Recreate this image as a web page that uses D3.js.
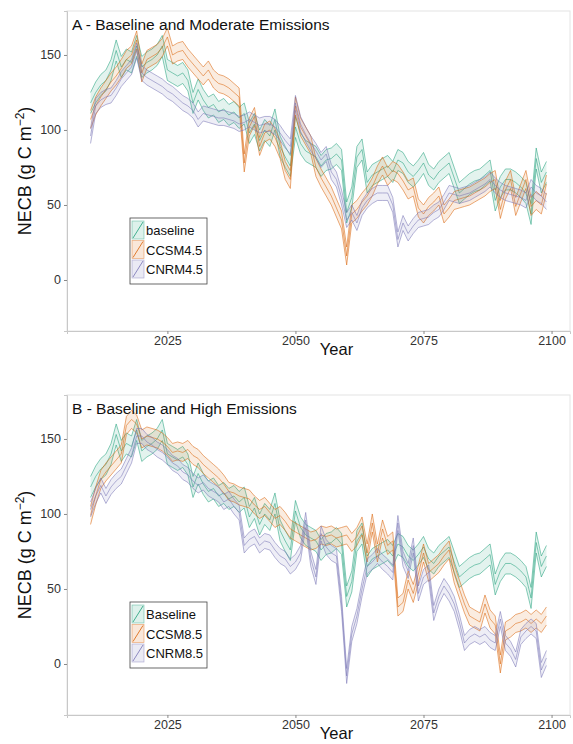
<!DOCTYPE html>
<html>
<head>
<meta charset="utf-8">
<script src="https://cdn.jsdelivr.net/npm/d3@7"></script>
<style>
  body { margin: 0; background: #fff; overflow: hidden; }
  svg text { font-family: "Liberation Sans", Arial, sans-serif; }
</style>
</head>
<body>
<svg id="chart" width="573" height="744"></svg>
<script>
// years on the x axis, one value per year
const years = d3.range(2010, 2100);

// baseline run (same in both panels)
const baseline = [118,125,130,133,140,153,142,147,145,156,142,145,147,150,156,140,138,136,138,133,
  118,127,120,115,117,112,114,110,112,108,111,98,104,93,100,96,107,89,82,76,
  102,91,86,84,82,76,80,81,84,80,45,55,82,87,65,70,72,74,76,72,
  80,78,72,69,73,78,70,67,72,75,78,68,58,61,64,66,67,70,73,53,
  62,67,67,65,62,58,44,81,65,72];

// moderate emissions
const ccsm45 = [107,116,122,127,132,136,141,147,150,160,138,147,149,151,155,162,150,152,153,148,
  144,140,136,140,134,131,130,128,125,122,78,102,109,89,98,100,95,87,73,67,
  116,102,96,90,75,68,62,56,48,40,16,44,47,52,56,62,70,76,69,73,
  71,66,60,62,48,44,49,52,56,44,48,53,54,55,56,58,60,62,65,67,
  47,60,67,49,58,67,49,53,50,64];
const cnrm45 = [96,116,120,122,123,128,134,138,142,153,138,135,133,131,129,126,124,121,118,116,
  113,107,111,110,109,108,108,107,106,104,105,107,105,103,104,104,102,98,93,89,
  118,104,97,91,86,80,84,72,67,55,40,45,38,48,53,56,58,58,58,50,
  27,38,31,36,40,41,42,45,47,52,58,57,56,57,58,60,62,64,67,63,
  60,58,57,56,55,53,62,58,56,52];

// high emissions
const ccsm85 = [99,112,123,128,132,136,140,159,163,160,150,152,151,150,148,145,141,142,141,143,
  139,137,133,130,127,124,120,115,114,112,111,110,106,103,105,101,97,99,95,90,
  88,86,84,82,83,86,85,86,84,85,86,81,85,92,74,94,74,90,79,82,
  38,41,56,47,60,74,61,64,67,72,76,60,50,40,32,30,28,40,30,26,
  0,22,24,27,28,30,27,30,27,32];
const cnrm85 = [103,112,119,112,118,122,125,132,139,152,152,148,146,143,141,138,134,132,128,126,
  122,119,121,117,115,113,108,110,105,101,79,83,85,79,82,81,76,72,70,65,
  68,74,96,70,58,87,78,74,72,40,-8,20,32,50,65,68,72,68,65,61,
  94,70,62,79,47,58,61,34,45,52,47,40,28,14,18,20,18,20,16,14,
  30,14,10,3,18,22,25,22,-4,4];

// half width of each ribbon (g C m-2)
const halfWidths = { baseline: 7, ccsm: 6, cnrm: 5 };

const yTicks = [0, 50, 100, 150];
const xTicks = [2025, 2050, 2075, 2100];

const colors = { baseline: "#1b9e77", ccsm: "#d95f02", cnrm: "#7570b3" };

const panels = [
  { top: 11, title: "A - Baseline and Moderate Emissions",
    series: [
      { key: "baseline", label: "baseline", values: baseline },
      { key: "ccsm", label: "CCSM4.5", values: ccsm45 },
      { key: "cnrm", label: "CNRM4.5", values: cnrm45 }
    ] },
  { top: 395, title: "B - Baseline and High Emissions",
    series: [
      { key: "baseline", label: "Baseline", values: baseline },
      { key: "ccsm", label: "CCSM8.5", values: ccsm85 },
      { key: "cnrm", label: "CNRM8.5", values: cnrm85 }
    ] }
];

const svg = d3.select("#chart");
const left = 67, width = 503, height = 320;

const x = d3.scaleLinear().domain([2005.4, 2103.6]).range([0, width]);

panels.forEach((p, pi) => {
  const y = d3.scaleLinear().domain([-34, 179.3]).range([height, 0]);

  const g = svg.append("g").attr("transform", `translate(${left},${p.top})`);

  // panel frame
  g.append("rect")
    .attr("width", width).attr("height", height)
    .attr("fill", "#fff").attr("stroke", "#e4e4e4").attr("stroke-width", 1);

  g.append("clipPath").attr("id", "clip" + pi)
    .append("rect").attr("width", width).attr("height", height);

  const plot = g.append("g").attr("clip-path", `url(#clip${pi})`);

  // ribbons + lower/mean/upper lines
  p.series.forEach(s => {
    const hw = halfWidths[s.key];
    const area = d3.area()
      .x((d, i) => x(years[i]))
      .y0(d => y(d - hw))
      .y1(d => y(d + hw));
    plot.append("path")
      .datum(s.values)
      .attr("d", area)
      .attr("fill", colors[s.key])
      .attr("fill-opacity", 0.12);

    [-hw, 0, hw].forEach(off => {
      const line = d3.line()
        .x((d, i) => x(years[i]))
        .y(d => y(d + off));
      plot.append("path")
        .datum(s.values)
        .attr("d", line)
        .attr("fill", "none")
        .attr("stroke", colors[s.key])
        .attr("stroke-opacity", 0.7)
        .attr("stroke-linejoin", "round")
        .attr("stroke-width", 0.75);
    });
  });

  // axes
  const yAxis = g.append("g")
    .call(d3.axisLeft(y).tickValues(yTicks).tickSize(3).tickPadding(3));
  const xAxis = g.append("g")
    .attr("transform", `translate(0,${height})`)
    .call(d3.axisBottom(x).tickValues(xTicks).tickFormat(d3.format("d")).tickSize(3).tickPadding(2));
  [yAxis, xAxis].forEach(a => {
    a.select(".domain").attr("stroke", "#c8c8c8");
    a.selectAll(".tick line").attr("stroke", "#888");
    a.selectAll(".tick text").attr("fill", "#333").style("font-size", "12.5px");
  });

  // title
  g.append("text")
    .attr("x", 5).attr("y", 19)
    .attr("fill", "#111")
    .style("font-size", "15.5px")
    .text(p.title);

  // axis titles
  g.append("text")
    .attr("x", width / 2 + 18).attr("y", height + 24)
    .attr("text-anchor", "middle")
    .attr("fill", "#111")
    .style("font-size", "16.5px")
    .text("Year");

  const yt = g.append("text")
    .attr("transform", `translate(-36,${height / 2}) rotate(-90)`)
    .attr("text-anchor", "middle")
    .attr("fill", "#111")
    .style("font-size", "18px");
  yt.append("tspan").text("NECB (g C m");
  yt.append("tspan").attr("dy", -7).style("font-size", "12px").text("\u22122");
  yt.append("tspan").attr("dy", 7).text(")");

  // legend
  const lg = g.append("g").attr("transform", `translate(63,${height - 113})`);
  lg.append("rect")
    .attr("width", 77).attr("height", 66)
    .attr("fill", "#fff").attr("stroke", "#444").attr("stroke-width", 0.8);
  p.series.forEach((s, i) => {
    const row = lg.append("g").attr("transform", `translate(2,${3 + i * 19.5})`);
    row.append("rect")
      .attr("width", 12).attr("height", 18)
      .attr("fill", colors[s.key]).attr("fill-opacity", 0.15)
      .attr("stroke", colors[s.key]).attr("stroke-opacity", 0.5).attr("stroke-width", 0.7);
    row.append("line")
      .attr("x1", 1).attr("y1", 17).attr("x2", 11).attr("y2", 1)
      .attr("stroke", colors[s.key]).attr("stroke-width", 0.8);
    row.append("text")
      .attr("x", 14).attr("y", 14)
      .attr("fill", "#111")
      .style("font-size", "13px")
      .text(s.label);
  });
});
</script>
</body>
</html>
